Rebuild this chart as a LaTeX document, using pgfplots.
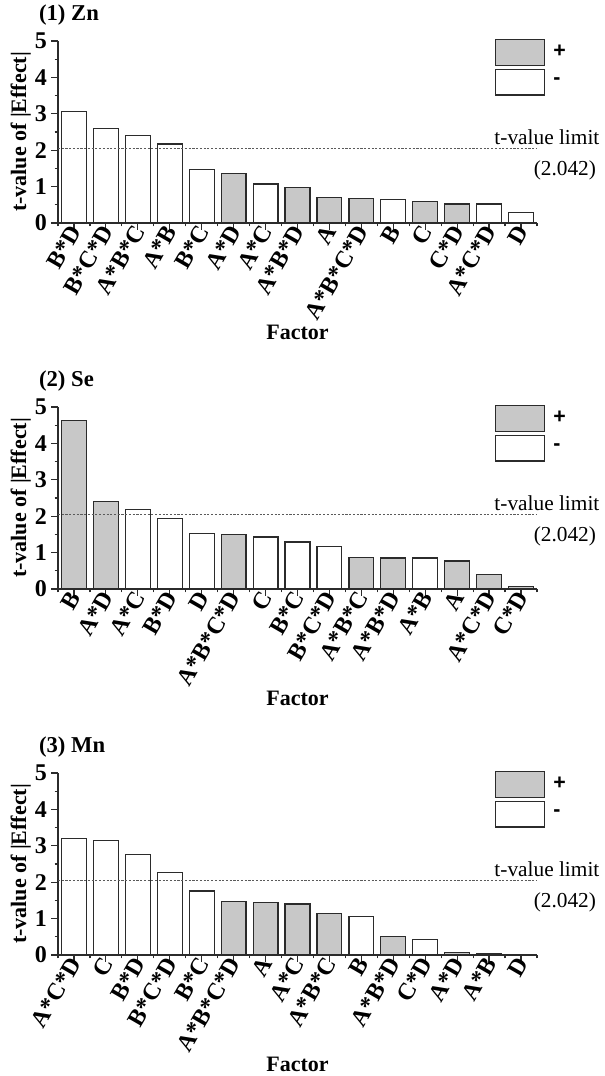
\documentclass[border=0pt]{standalone}
\usepackage{pgfplots}
\pgfplotsset{compat=1.18}
\usepackage{fontspec}
\setmainfont{Liberation Serif}
\newfontfamily\signfont{Liberation Sans}

\definecolor{barg}{HTML}{C8C8C8}
\definecolor{bard}{HTML}{2B2B2B}
\definecolor{limc}{HTML}{5A5A5A}

\pgfplotsset{
  every axis title shift=0pt,
  pareto/.style={
    scale only axis, width=359.25pt, height=136.5pt,
    xmin=-0.5, xmax=14.5, ymin=0, ymax=5,
    axis x line*=bottom, axis y line*=left,
    axis line style={-, draw=bard, line width=0.9pt},
    tick align=outside,
    major tick length=4.9pt, minor tick length=2.6pt,
    tick style={draw=bard, line width=0.9pt},
    xtick={0,...,14}, minor xtick={-0.5,0.5,...,14.5},
    ytick={0,...,5}, minor ytick={0.5,1.5,...,4.5},
    /pgf/number format/assume math mode=true,
    yticklabel style={font=\fontsize{18}{18}\selectfont\bfseries},
    xticklabel style={font=\fontsize{18}{18}\selectfont\bfseries,
      rotate=60, anchor=east, inner sep=1pt, xshift=3pt},
    xlabel={Factor}, ylabel={t-value of |Effect|},
    label style={font=\fontsize{16.5}{16.5}\selectfont\bfseries},
    xlabel style={at={(axis description cs:0.5,-0.60)}, anchor=center},
    ylabel style={at={(axis description cs:-0.078,0.5)}, anchor=center},
    title style={font=\fontsize{17}{17}\selectfont\bfseries,
      at={(axis description cs:-0.04,1.143)}, anchor=west, inner sep=0pt},
    clip=false,
    legend style={at={(0.912,1.011)}, anchor=north west, draw=none,
      fill=none, inner sep=0pt, row sep=2.5pt, column sep=6pt,
      font=\signfont\bfseries\fontsize{16}{16}\selectfont,
      nodes={inner sep=0pt}},
    legend cell align=left,
  },
  posbar/.style={ybar, bar width=0.78, bar shift=0pt, fill=barg,
    draw=bard, line width=0.9pt, forget plot},
  negbar/.style={ybar, bar width=0.78, bar shift=0pt, fill=white,
    draw=bard, line width=0.9pt, forget plot},
  limit/.style={limc, line width=0.6pt, dash pattern=on 1.6pt off 1.2pt,
    forget plot},
}

% significance threshold and legend shared by the three panels
\newcommand\limitline{%
  \addplot[limit] coordinates {(-0.5,2.042) (14.5,2.042)};
  \node[anchor=base east, font=\fontsize{16}{16}\selectfont]
    at (rel axis cs:1.14,0.43) {t-value limit};
  \node[anchor=base east, font=\fontsize{16}{16}\selectfont]
    at (rel axis cs:1.133,0.262) {(2.042)};
  \addlegendimage{legend image code/.code={\draw[fill=barg, draw=bard,
    line width=0.9pt] (0pt,-9.5pt) rectangle (36.75pt,9.5pt);}}
  \addlegendentry{+}
  \addlegendimage{legend image code/.code={\draw[fill=white, draw=bard,
    line width=0.9pt] (0pt,-9.5pt) rectangle (36.75pt,9.5pt);}}
  \addlegendentry{-}
}

\begin{document}
\begin{tikzpicture}

% (1) Zn
\begin{axis}[pareto, at={(43.5pt,-167.25pt)}, anchor=south west,
  title={(1) Zn},
  xticklabels={B*D,B*C*D,A*B*C,A*B,B*C,A*D,A*C,A*B*D,A,A*B*C*D,B,C,C*D,A*C*D,D}]
  \addplot[posbar] coordinates {(5,1.37) (7,0.97) (8,0.71) (9,0.68) (11,0.58) (12,0.52)};
  \addplot[negbar] coordinates {(0,3.06) (1,2.60) (2,2.40) (3,2.17) (4,1.47) (6,1.07) (10,0.65) (13,0.52) (14,0.29)};
  \limitline
\end{axis}

% (2) Se
\begin{axis}[pareto, at={(43.5pt,-441.75pt)}, anchor=south west,
  title={(2) Se},
  xticklabels={B,A*D,A*C,B*D,D,A*B*C*D,C,B*C,B*C*D,A*B*C,A*B*D,A*B,A,A*C*D,C*D}]
  \addplot[posbar] coordinates {(0,4.62) (1,2.40) (5,1.50) (9,0.87) (10,0.85) (12,0.77) (13,0.39) (14,0.07)};
  \addplot[negbar] coordinates {(2,2.18) (3,1.93) (4,1.52) (6,1.43) (7,1.29) (8,1.17) (11,0.85)};
  \limitline
\end{axis}

% (3) Mn
\begin{axis}[pareto, at={(43.5pt,-716.25pt)}, anchor=south west,
  title={(3) Mn},
  xticklabels={A*C*D,C,B*D,B*C*D,B*C,A*B*C*D,A,A*C,A*B*C,B,A*B*D,C*D,A*D,A*B,D}]
  \addplot[posbar] coordinates {(5,1.46) (6,1.45) (7,1.40) (8,1.14) (10,0.50) (12,0.06) (13,0.04)};
  \addplot[negbar] coordinates {(0,3.20) (1,3.15) (2,2.76) (3,2.26) (4,1.76) (9,1.05) (11,0.43) (14,0.02)};
  \limitline
\end{axis}

\pgfresetboundingbox
\path[use as bounding box] (0pt,0pt) rectangle (453.75pt,-807pt);
\end{tikzpicture}
\end{document}
